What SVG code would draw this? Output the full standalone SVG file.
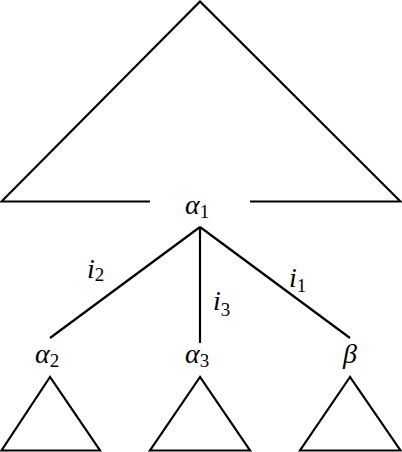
<svg xmlns="http://www.w3.org/2000/svg" width="402" height="452" viewBox="0 0 402 452">
<style>
.s{fill:none;stroke:#000;stroke-width:2.2;stroke-linejoin:miter}
text{font-family:'Liberation Serif','DejaVu Serif',serif;font-style:italic;font-size:28px;fill:#000}
tspan{font-style:normal;font-size:19px}
</style>
<rect width="402" height="452" fill="#fff"/>
<g id="root">
<polyline class="s" points="150,201.5 1.5,201.5 200,1.5 400.5,201.5 250,201.5"/>
<text x="185" y="214">α<tspan dy="4">1</tspan></text>
</g>
<g id="connectors">
<line class="s" x1="200" y1="227" x2="50" y2="338"/>
<line class="s" x1="200" y1="227" x2="200" y2="343"/>
<line class="s" x1="200" y1="227" x2="350" y2="338"/>
<text x="87" y="278">i<tspan dy="3">2</tspan></text>
<text x="213" y="310">i<tspan dy="6">3</tspan></text>
<text x="289" y="287">i<tspan dy="5">1</tspan></text>
</g>
<g id="alpha2">
<text x="35" y="363">α<tspan dy="4">2</tspan></text>
<polygon class="s" points="50,377 1.5,450.5 100,450.5"/>
</g>
<g id="alpha3">
<text x="185" y="363">α<tspan dy="4">3</tspan></text>
<polygon class="s" points="200,377 150,450.5 250,450.5"/>
</g>
<g id="beta">
<text x="343" y="363">β</text>
<polygon class="s" points="350,377 300,450.5 400.5,450.5"/>
</g>
</svg>
